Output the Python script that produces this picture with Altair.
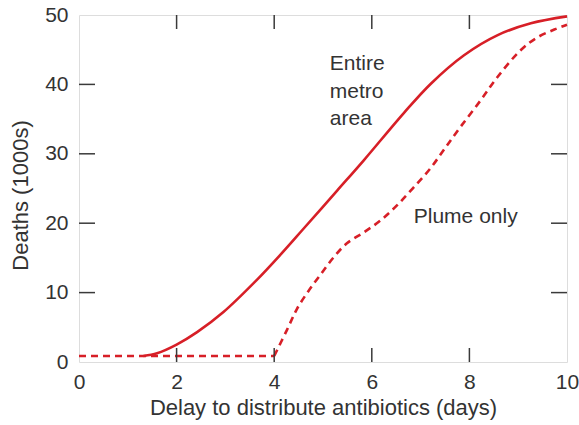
import altair as alt
import pandas as pd

# ---- data ----
metro_days = [1.32, 1.6, 2.0, 2.42, 2.96, 3.64, 4.12, 4.6, 5.29, 5.84, 6.66, 7.21, 7.89, 8.58, 9.26, 10.0]
metro_deaths = [0.87, 1.25, 2.5, 4.3, 7.2, 11.8, 15.4, 19.2, 24.7, 29.1, 35.9, 40.1, 44.2, 47.1, 48.8, 49.8]

plume_days = [0.0, 4.0,
              4.0, 4.26, 4.47, 4.7, 4.95, 5.22, 5.49, 5.84, 6.18, 6.52, 6.85, 7.2, 7.5,
              7.82, 8.23, 8.58, 9.06, 9.4, 9.74, 10.0]
plume_deaths = [0.87, 0.87,
                0.87, 4.6, 7.7, 10.2, 12.6, 15.1, 17.1, 18.7, 20.4, 22.6, 25.1, 27.9, 30.8,
                33.9, 37.7, 41.1, 45.0, 46.8, 47.9, 48.6]
plume_segment = ["flat", "flat"] + ["rise"] * 20

x_tick_labels = [0, 2, 4, 6, 8, 10]
y_tick_labels = [0, 10, 20, 30, 40, 50]
inner_x_ticks = [2, 4, 6, 8]
inner_y_ticks = [10, 20, 30, 40]

W, H = 488, 347
RED = "#d71f27"
INK = "#333333"
FONT = "Liberation Sans"

metro = pd.DataFrame({"days": metro_days, "deaths": metro_deaths})
plume = pd.DataFrame({"days": plume_days, "deaths": plume_deaths, "seg": plume_segment})
xt = pd.DataFrame({"days": inner_x_ticks})
yt = pd.DataFrame({"deaths": inner_y_ticks})

xscale = alt.Scale(domain=[0, 10], nice=False, zero=False)
yscale = alt.Scale(domain=[0, 50], nice=False, zero=False)

xaxis = alt.Axis(values=x_tick_labels, ticks=False, domain=False, grid=False,
                 labelFontSize=21, labelColor=INK, labelPadding=9, labelFlush=False,
                 labelFont=FONT, title="Delay to distribute antibiotics (days)",
                 titleFont=FONT, titleFontSize=22, titleFontWeight="normal",
                 titleColor=INK, titleBaseline="alphabetic", titleY=52)
yaxis = alt.Axis(values=y_tick_labels, ticks=False, domain=False, grid=False,
                 labelFontSize=21, labelColor=INK, labelPadding=11, labelFlush=False,
                 labelFont=FONT, title="Deaths (1000s)",
                 titleFont=FONT, titleFontSize=22, titleFontWeight="normal",
                 titleColor=INK, titleX=-47, titleY=180, titleAlign="center",
                 titleBaseline="bottom", titleAngle=270)

X = alt.X("days:Q", scale=xscale, axis=xaxis)
Y = alt.Y("deaths:Q", scale=yscale, axis=yaxis)

metro_line = alt.Chart(metro).mark_line(color=RED, strokeWidth=2.6, interpolate="catmull-rom").encode(x=X, y=Y)
plume_line = alt.Chart(plume).mark_line(color=RED, strokeWidth=2.6, strokeDash=[7, 5],
                                        interpolate="catmull-rom").encode(x=X, y=Y, detail="seg:N")

tick_style = dict(color="#3a3a3a", strokeWidth=1.5)
bottom_ticks = alt.Chart(xt).mark_rule(**tick_style).encode(x=X, y=alt.value(H), y2=alt.value(H - 14))
top_ticks = alt.Chart(xt).mark_rule(**tick_style).encode(x=X, y=alt.value(0), y2=alt.value(14))
left_ticks = alt.Chart(yt).mark_rule(**tick_style).encode(y=Y, x=alt.value(0), x2=alt.value(16))
right_ticks = alt.Chart(yt).mark_rule(**tick_style).encode(y=Y, x=alt.value(W - 16), x2=alt.value(W))

metro_label = alt.Chart().mark_text(align="left", baseline="alphabetic", font=FONT, fontSize=21,
                                    color=INK, lineHeight=27.5).encode(
    x=alt.datum(5.14), y=alt.datum(42.07), text=alt.value(["Entire", "metro", "area"]))
plume_label = alt.Chart().mark_text(align="left", baseline="alphabetic", font=FONT, fontSize=21,
                                    color=INK).encode(
    x=alt.datum(6.86), y=alt.datum(20.05), text=alt.value("Plume only"))

chart = alt.layer(
    metro_line, plume_line, bottom_ticks, top_ticks, left_ticks, right_ticks, metro_label, plume_label
).properties(
    width=W, height=H,
    autosize=alt.AutoSizeParams(type="none"),
    padding={"left": 79, "top": 15, "right": 12, "bottom": 63},
).configure_view(
    stroke="#555555", strokeWidth=1.5
).configure(background="white")

chart.save("out.html", embed_options={"renderer": "svg", "actions": False})
